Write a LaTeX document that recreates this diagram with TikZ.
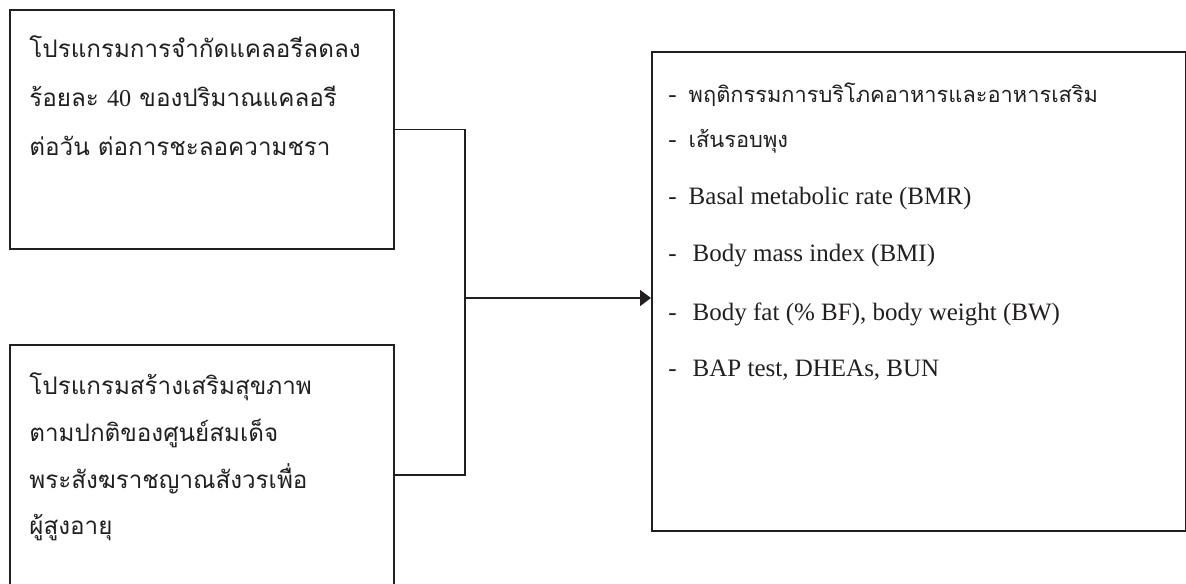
\documentclass[tikz,border=0pt]{standalone}
\usepackage{fontspec}
\setmainfont{Liberation Serif}
\newfontfamily\thaifont[Script=Thai]{Loma}
\usetikzlibrary{arrows.meta,positioning}
\definecolor{inkdark}{HTML}{231F20}
\tikzset{
  framebox/.style={draw=inkdark,line width=1pt,anchor=north west,inner sep=0pt},
  latintext/.style={anchor=base west,inner sep=0pt,text=inkdark,font=\fontsize{12.5}{14}\selectfont},
  thaitext/.style={anchor=base west,inner sep=0pt,text=inkdark,font=\thaifont\fontsize{12.1}{14}\selectfont},
  thaiitem/.style={thaitext,font=\thaifont\fontsize{10.9}{13}\selectfont},
  link/.style={draw=inkdark,line width=0.9pt},
}

\begin{document}
\begin{tikzpicture}[x=0.5pt,y=-0.5pt]
  \useasboundingbox (0,0) rectangle (1186,583);
  % the three boxes
  \node[framebox,minimum width=192pt,minimum height=119.5pt] (caloriebox) at (9,9) {};
  \node[framebox,minimum width=192pt,minimum height=130pt] (healthbox) at (9,344) {};
  \node[framebox,minimum width=267pt,minimum height=239.5pt] (outcomebox) at (651,51) {};
  % text of the left boxes
  \node[thaitext] (cal1) at (29,58) {โปรแกรมการจำกัดแคลอรีลดลง};
  \node[thaitext] (cal2) at (29,106) {ร้อยละ {\rmfamily 40} ของปริมาณแคลอรี};
  \node[thaitext] (cal3) at (29,155) {ต่อวัน ต่อการชะลอความชรา};
  \node[thaitext] (hea1) at (29,394) {โปรแกรมสร้างเสริมสุขภาพ};
  \node[thaitext] (hea2) at (29,441) {ตามปกติของศูนย์สมเด็จ};
  \node[thaitext] (hea3) at (29,488) {พระสังฆราชญาณสังวรเพื่อ};
  \node[thaitext] (hea4) at (29,534) {ผู้สูงอายุ};
  % outcome list
  \node[thaiitem] (out1) at (668,103) {{\rmfamily\fontsize{12.5}{14}\selectfont -}\hspace{6pt}พฤติกรรมการบริโภคอาหารและอาหารเสริม};
  \node[thaiitem] (out2) at (668,147) {{\rmfamily\fontsize{12.5}{14}\selectfont -}\hspace{6pt}เส้นรอบพุง};
  \foreach \n/\y/\txt in {out3/204/{-\hspace{6pt}Basal metabolic rate (BMR)},
                          out4/261/{-\hspace{8pt}Body mass index (BMI)},
                          out5/320/{-\hspace{8pt}Body fat (\% BF), body weight (BW)},
                          out6/376/{-\hspace{8pt}BAP test, DHEAs, BUN}}{
     \node[latintext] (\n) at (668,\y) {\txt};
  }
  % connectors
  \coordinate (join) at (465,298);
  \draw[link] (caloriebox.east) -| (join);
  \draw[link] (healthbox.east) -| (join);
  \draw[link,-{Triangle[length=5.5pt,width=8pt]}] (join) -- (join -| outcomebox.west);
\end{tikzpicture}
\end{document}
